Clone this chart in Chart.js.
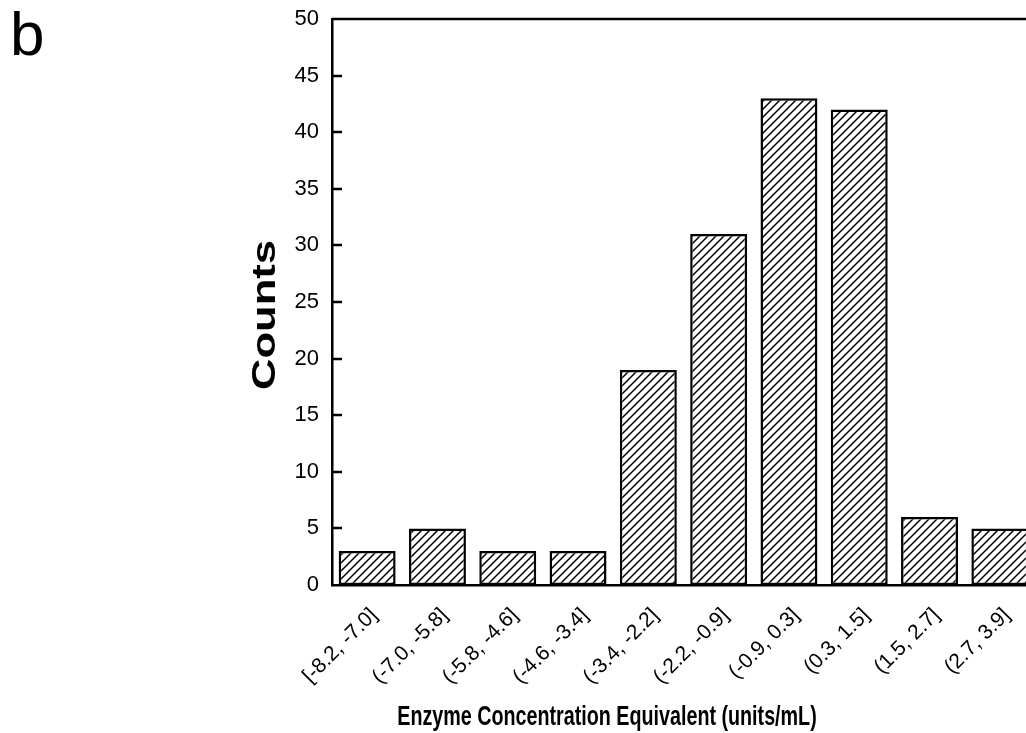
<!DOCTYPE html>
<html>
<head>
<meta charset="utf-8">
<script src="https://cdn.jsdelivr.net/npm/chart.js@4"></script>
<style>
  html, body { margin: 0; padding: 0; background: #fff; overflow: hidden; }
  #wrap { position: relative; width: 1026px; height: 733px; overflow: hidden; }
  #panel { position: absolute; left: 10px; top: -2px; font: 62px "Liberation Sans", Arial, sans-serif; color: #000; }
  canvas { position: absolute; left: 0; top: 0; }
</style>
</head>
<body>
<div id="wrap">
  <canvas id="histChart" width="1045" height="733"></canvas>
  <div id="panel">b</div>
</div>
<script>
// histogram bins and counts
const binLabels = ["[-8.2, -7.0]", "(-7.0, -5.8]", "(-5.8, -4.6]", "(-4.6, -3.4]", "(-3.4, -2.2]",
                   "(-2.2, -0.9]", "(-0.9, 0.3]", "(0.3, 1.5]", "(1.5, 2.7]", "(2.7, 3.9]"];
const counts = [3, 5, 3, 3, 19, 31, 43, 42, 6, 5];
const yTicks = [0, 5, 10, 15, 20, 25, 30, 35, 40, 45, 50];

const fontFamily = '"Liberation Sans", Arial, sans-serif';

// diagonal hatch fill
function makeHatch() {
    let c = document.createElement("canvas");
    c.width = 8; c.height = 8;
    let g = c.getContext("2d");
    g.fillStyle = "#fff";
    g.fillRect(0, 0, 8, 8);
    g.strokeStyle = "#000";
    g.lineWidth = 1.5;
    g.beginPath();
    g.moveTo(-1, 9); g.lineTo(9, -1);
    g.moveTo(-1, 1); g.lineTo(1, -1);
    g.moveTo(7, 9); g.lineTo(9, 7);
    g.stroke();
    return g.createPattern(c, "repeat");
}

// frame top line, inward y ticks, axis titles
const extras = {
    id: "extras",
    afterDraw(chart) {
        let ctx = chart.ctx;
        let area = chart.chartArea;
        let y = chart.scales.y;
        ctx.save();
        ctx.strokeStyle = "#000";
        ctx.lineWidth = 2.5;
        ctx.beginPath();
        ctx.moveTo(area.left, area.top);
        ctx.lineTo(area.right, area.top);
        yTicks.forEach(function(v) {
            if (v === 0 || v === 50) return;
            let py = Math.round(y.getPixelForValue(v));
            ctx.moveTo(area.left, py);
            ctx.lineTo(area.left + 10, py);
        });
        ctx.stroke();

        ctx.fillStyle = "#000";
        ctx.textAlign = "center";
        ctx.textBaseline = "middle";

        // x title (narrow in the original)
        ctx.save();
        ctx.translate(607, 718);
        ctx.scale(0.73, 1);
        ctx.font = "bold 27px " + fontFamily;
        ctx.fillText("Enzyme Concentration Equivalent (units/mL)", 0, 0);
        ctx.restore();

        // y title (tall in the original)
        ctx.save();
        ctx.translate(266, 315);
        ctx.rotate(-Math.PI / 2);
        ctx.scale(1.28, 1);
        ctx.font = "bold 34px " + fontFamily;
        ctx.fillText("Counts", 0, 0);
        ctx.restore();

        ctx.restore();
    }
};

new Chart(document.getElementById("histChart"), {
    type: "bar",
    data: {
        labels: binLabels,
        datasets: [{
            data: counts,
            backgroundColor: makeHatch(),
            borderColor: "#000",
            borderWidth: 2.5,
            borderSkipped: false,
            barPercentage: 0.9,
            categoryPercentage: 0.9
        }]
    },
    options: {
        responsive: false,
        animation: false,
        layout: { padding: { left: 245, top: 19, right: 10, bottom: 0 } },
        plugins: { legend: { display: false }, tooltip: { enabled: false } },
        scales: {
            x: {
                grid: { display: false, drawTicks: false },
                border: { color: "#000", width: 2.5 },
                ticks: {
                    color: "#000",
                    font: { family: fontFamily, size: 21 },
                    minRotation: 45,
                    maxRotation: 45,
                    padding: 18,
                    labelOffset: 7
                },
                afterFit(scale) { scale.height = 148; }
            },
            y: {
                min: 0,
                max: 50,
                afterBuildTicks(scale) { scale.ticks = yTicks.map(v => ({ value: v })); },
                grid: { display: false, drawTicks: false },
                border: { color: "#000", width: 2.5 },
                ticks: {
                    color: "#000",
                    font: { family: fontFamily, size: 22 },
                    padding: 13
                },
                afterFit(scale) {
                    scale.width = 87;
                    scale.paddingTop = 0;
                    scale.paddingBottom = 0;
                }
            }
        }
    },
    plugins: [extras]
});
</script>
</body>
</html>
